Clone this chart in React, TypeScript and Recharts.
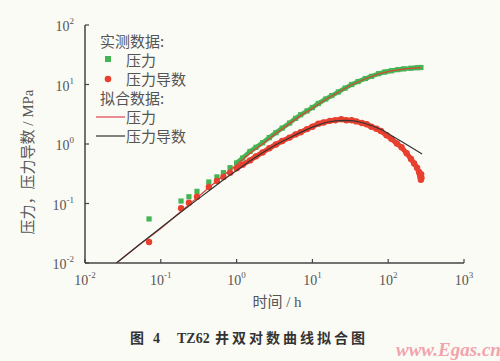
import React from "react"
import { ScatterChart, Scatter, XAxis, YAxis } from "recharts"

// measured pressure (green squares)
const timeP = [0.07, 0.185, 0.235, 0.3, 0.43, 0.55, 0.67, 0.82, 1.0, 1.2, 1.5, 1.8, 2.2, 2.7, 3.3, 4.0, 5.0, 6.0, 7.0, 8.5, 10, 12, 15, 18, 22, 27, 33, 40, 50, 60, 75, 90, 110, 135, 160, 200, 240, 270]
const pressure = [0.055, 0.11, 0.13, 0.16, 0.23, 0.28, 0.33, 0.4, 0.48, 0.58, 0.75, 0.88, 1.05, 1.28, 1.55, 1.85, 2.25, 2.7, 3.1, 3.6, 4.1, 4.8, 5.7, 6.5, 7.5, 8.7, 10.0, 11.2, 12.6, 13.7, 15.2, 16.2, 17.0, 17.8, 18.3, 18.8, 19.1, 19.3]

// measured derivative (red circles)
const timeD = [0.07, 0.185, 0.235, 0.3, 0.43, 0.55, 0.67, 0.82, 1.0, 1.2, 1.5, 1.8, 2.2, 2.7, 3.3, 4.0, 5.0, 6.0, 7.0, 8.5, 10, 12, 14, 17, 20, 24, 28, 33, 38, 45, 52, 60, 70, 80, 95, 110, 130, 150, 175, 200, 220, 240, 255, 262, 266, 270, 272, 275]
const deriv = [0.0225, 0.083, 0.103, 0.13, 0.19, 0.24, 0.28, 0.33, 0.39, 0.45, 0.53, 0.62, 0.72, 0.85, 0.98, 1.12, 1.28, 1.45, 1.58, 1.78, 1.95, 2.2, 2.3, 2.45, 2.5, 2.6, 2.5, 2.5, 2.4, 2.25, 2.15, 1.95, 1.8, 1.65, 1.4, 1.22, 1.02, 0.88, 0.7, 0.56, 0.47, 0.4, 0.34, 0.31, 0.28, 0.25, 0.31, 0.27]

// fitted pressure (red line)
const fitTimeP = [0.026, 0.05, 0.1, 0.2, 0.4, 0.7, 1.0, 1.5, 2.2, 3.3, 5, 7, 10, 15, 22, 33, 50, 75, 110, 160, 200, 270]
const fitPressure = [0.01, 0.0195, 0.038, 0.08, 0.17, 0.31, 0.45, 0.7, 1.0, 1.5, 2.2, 3.0, 4.0, 5.6, 7.4, 9.9, 12.5, 15.1, 16.9, 18.2, 18.7, 19.2]

// fitted derivative (black line)
const fitTimeD = [0.026, 0.05, 0.1, 0.2, 0.3, 0.45, 0.7, 1.0, 1.5, 2.2, 3.3, 5, 7, 10, 15, 20, 27, 35, 45, 60, 85, 120, 150, 200, 280]
const fitDeriv = [0.01, 0.0195, 0.039, 0.078, 0.115, 0.17, 0.26, 0.36, 0.52, 0.71, 0.97, 1.27, 1.57, 1.92, 2.3, 2.45, 2.5, 2.45, 2.3, 2.05, 1.7, 1.3, 1.1, 0.88, 0.68]

const xTicks = [0.01, 0.1, 1, 10, 100, 1000]
const yTicks = [0.01, 0.1, 1, 10, 100]

const pts = (xs: number[], ys: number[]) => xs.map((x, i) => ({ x, y: ys[i] }))

const GREEN = "#43b553"
const RED = "#e8402f"
const AXIS = "#444"
const TEXT = "#555"
const SERIF = "'Liberation Serif', 'DejaVu Serif', serif"
const CJK = "'Noto Sans CJK SC', sans-serif"

const PLOT_BOTTOM = 263
const PLOT_LEFT = 85

function XTick(props: any) {
  const { x, payload } = props
  const e = Math.round(Math.log10(payload.value))
  return (
    <g>
      <line x1={x} x2={x} y1={PLOT_BOTTOM} y2={PLOT_BOTTOM - 4} stroke={AXIS} strokeWidth={1.2} />
      <text x={x} y={285} textAnchor="middle" fontFamily={SERIF} fontSize={14} fill={TEXT}>
        10<tspan dy={-7} fontSize={9}>{e}</tspan>
      </text>
    </g>
  )
}

function YTick(props: any) {
  const { y, payload } = props
  const e = Math.round(Math.log10(payload.value))
  return (
    <g>
      <line x1={PLOT_LEFT} x2={PLOT_LEFT + 4} y1={y} y2={y} stroke={AXIS} strokeWidth={1.2} />
      <text x={74} y={y + 6} textAnchor="end" fontFamily={SERIF} fontSize={14} fill={TEXT}>
        10<tspan dy={-7} fontSize={9}>{e}</tspan>
      </text>
    </g>
  )
}

const Square = (p: any) => <rect x={p.cx - 2.6} y={p.cy - 2.6} width={5.2} height={5.2} fill={GREEN} />
const Dot = (p: any) => <circle cx={p.cx} cy={p.cy} r={3.2} fill={RED} />
const None = () => <g />

export default function App() {
  const pData = pts(timeP, pressure)
  const dData = pts(timeD, deriv)
  return (
    <div style={{ position: "relative", width: 500, height: 361, background: "#fbfbf6" }}>
      <style>{`body{margin:0}`}</style>
      <ScatterChart width={500} height={361} margin={{ top: 25, right: 36, bottom: 68, left: 25 }}>
        <XAxis
          type="number"
          dataKey="x"
          scale="log"
          domain={[0.01, 1000]}
          ticks={xTicks}
          tick={<XTick />}
          tickLine={false}
          axisLine={{ stroke: AXIS, strokeWidth: 1.5 }}
          height={30}
          allowDataOverflow
        />
        <YAxis
          type="number"
          dataKey="y"
          scale="log"
          domain={[0.01, 100]}
          ticks={yTicks}
          tick={<YTick />}
          tickLine={false}
          axisLine={{ stroke: AXIS, strokeWidth: 1.5 }}
          width={60}
          allowDataOverflow
        />
        <Scatter data={pData.filter(d => d.x >= 1)} line={{ stroke: GREEN, strokeWidth: 4.5 }} shape={None} isAnimationActive={false} />
        <Scatter data={pData} shape={Square} isAnimationActive={false} />
        <Scatter data={pts(fitTimeP, fitPressure)} line={{ stroke: "#d9483a", strokeWidth: 1.3 }} shape={None} isAnimationActive={false} />
        <Scatter data={dData.filter(d => d.x >= 1)} line={{ stroke: RED, strokeWidth: 5 }} shape={None} isAnimationActive={false} />
        <Scatter data={dData} shape={Dot} isAnimationActive={false} />
        <Scatter data={pts(fitTimeD, fitDeriv)} line={{ stroke: "#333", strokeWidth: 1.2 }} shape={None} isAnimationActive={false} />
      </ScatterChart>
      <svg width={500} height={361} style={{ position: "absolute", left: 0, top: 0, pointerEvents: "none" }}>
        <g fontFamily={CJK} fontSize={15} fill={TEXT}>
          <text x={100} y={47}>实测数据:</text>
          <rect x={105} y={56} width={6} height={6} fill={GREEN} />
          <text x={126} y={66}>压力</text>
          <circle cx={108} cy={79} r={3.3} fill={RED} />
          <text x={126} y={85}>压力导数</text>
          <text x={100} y={104}>拟合数据:</text>
          <line x1={96} x2={125} y1={117} y2={117} stroke="#e0505a" strokeWidth={1.3} />
          <text x={126} y={123}>压力</text>
          <line x1={96} x2={125} y1={136} y2={136} stroke="#333" strokeWidth={1.2} />
          <text x={126} y={142}>压力导数</text>
          <text x={277} y={307} textAnchor="middle">
            时间<tspan fontFamily={SERIF}> / h</tspan>
          </text>
          <text transform="translate(33,162) rotate(-90)" textAnchor="middle">
            压力，压力导数<tspan fontFamily={SERIF}> / MPa</tspan>
          </text>
        </g>
        <g fontSize={14} fontWeight="bold" fill="#333">
          <text x={130} y={343} fontFamily={CJK}>图</text>
          <text x={153} y={343} fontFamily={SERIF}>4</text>
          <text x={177} y={343} fontFamily={SERIF}>TZ62</text>
          <text x={215} y={343} fontFamily={CJK} letterSpacing={3}>井双对数曲线拟合图</text>
        </g>
        <text x={396} y={356} fontFamily={SERIF} fontSize={19} fontStyle="italic" fontWeight="bold" fill="#f2a3ac">
          www.Egas.cn
        </text>
      </svg>
    </div>
  )
}
